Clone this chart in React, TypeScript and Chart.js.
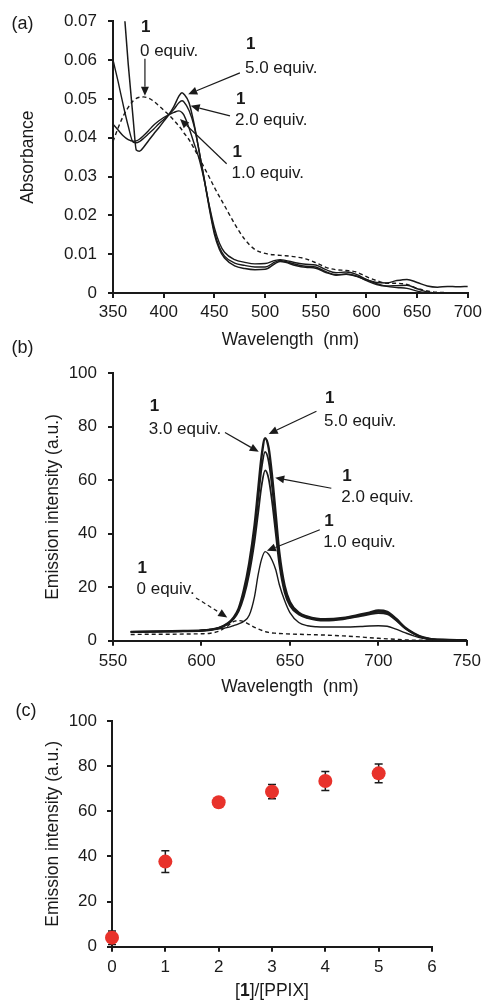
import React, { useEffect, useRef } from 'react';
import { Chart, registerables } from 'chart.js';

Chart.register(...registerables);

const FONT = '"Liberation Sans", Arial, Helvetica, sans-serif';
const INK = '#1a1a1a';
const DOT = '#e8322b';

// ---------- Panel (a): absorbance ----------
const absWavelength = [350, 355, 360, 365, 370, 373, 376, 380, 385, 390, 395, 400, 405, 410, 415, 418, 420, 425, 430, 435, 440, 445, 450, 455, 460, 470, 480, 490, 500, 510, 515, 520, 530, 540, 550, 560, 570, 580, 590, 600, 610, 620, 630, 640, 650, 660, 670, 680, 690, 700];
const abs0eq = [0.039, 0.0425, 0.0455, 0.0478, 0.0495, 0.0501, 0.0504, 0.0505, 0.0502, 0.0494, 0.0483, 0.0471, 0.0459, 0.0445, 0.043, 0.042, 0.0412, 0.0395, 0.0372, 0.0348, 0.0323, 0.0298, 0.0272, 0.0248, 0.0225, 0.0178, 0.0138, 0.0112, 0.0102, 0.0098, 0.0097, 0.0096, 0.0093, 0.0088, 0.0078, 0.0066, 0.006, 0.0058, 0.0054, 0.0042, 0.0032, 0.0025, 0.0025, 0.0022, 0.0012, 0.0005, 0.0002, 0.0001, 0, 0];
const abs1eq = [0.0435, 0.042, 0.0405, 0.0395, 0.0391, 0.0392, 0.0396, 0.0405, 0.0418, 0.0432, 0.0443, 0.0452, 0.0459, 0.0465, 0.0469, 0.0465, 0.0458, 0.0425, 0.0385, 0.0345, 0.029, 0.0225, 0.0168, 0.0128, 0.0105, 0.0086, 0.0079, 0.0075, 0.0076, 0.0084, 0.0086, 0.0084, 0.0078, 0.0074, 0.0072, 0.006, 0.0052, 0.0054, 0.0048, 0.0035, 0.0024, 0.0017, 0.0014, 0.0012, 0.0005, 0, 0, 0, 0, 0];
const abs2eq = [0.06, 0.0545, 0.0485, 0.043, 0.0388, 0.0387, 0.039, 0.0398, 0.041, 0.0422, 0.0435, 0.0447, 0.0459, 0.0473, 0.049, 0.0495, 0.0492, 0.047, 0.043, 0.0365, 0.0295, 0.0222, 0.0158, 0.0118, 0.0095, 0.0077, 0.0071, 0.0067, 0.0067, 0.008, 0.0084, 0.0081, 0.0074, 0.0069, 0.0067, 0.0055, 0.0047, 0.0049, 0.0044, 0.0032, 0.0022, 0.0018, 0.0019, 0.002, 0.0011, 0.0003, 0, 0, 0, 0];
const abs5eq = [0.11, 0.094, 0.076, 0.059, 0.0445, 0.0368, 0.0365, 0.0375, 0.0392, 0.0409, 0.0425, 0.0442, 0.0459, 0.048, 0.0507, 0.0516, 0.0512, 0.049, 0.0435, 0.0365, 0.0292, 0.0218, 0.0152, 0.0112, 0.009, 0.007, 0.0063, 0.006, 0.0061, 0.0076, 0.0081, 0.0079, 0.0071, 0.0066, 0.0064, 0.0053, 0.0046, 0.0048, 0.0043, 0.0034, 0.0027, 0.0026, 0.0032, 0.0035, 0.0027, 0.0018, 0.0015, 0.0017, 0.0016, 0.0017];

// ---------- Panel (b): emission spectra ----------
const emWavelength = [560, 570, 580, 590, 600, 605, 610, 615, 618, 621, 624, 627, 630, 632, 634, 636, 638, 640, 642, 644, 647, 650, 655, 660, 665, 670, 680, 690, 695, 700, 705, 710, 715, 720, 725, 730, 740, 750];
const em0eq = [2.3, 2.4, 2.4, 2.5, 2.6, 2.8, 3.6, 5.6, 7.1, 7.5, 7.1, 6.1, 5.0, 4.4, 3.9, 3.4, 3.1, 2.9, 2.8, 2.7, 2.6, 2.5, 2.4, 2.3, 2.2, 2.1, 1.8, 1.4, 1.1, 0.9, 0.7, 0.5, 0.3, 0.2, 0.2, 0.1, 0.1, 0];
const em1eq = [3.3, 3.4, 3.5, 3.6, 3.8, 4.0, 4.4, 5.0, 5.6, 6.3, 7.3, 9.5, 16.5, 24.5, 30.5, 33.3, 32.3, 30.0, 26.5, 21, 15, 10.5, 6.8, 5.6, 5.2, 5.1, 5.1, 5.3, 5.5, 5.6, 5.4, 4.3, 3.0, 1.8, 0.9, 0.4, 0.2, 0.1];
const em2eq = [3.3, 3.4, 3.5, 3.6, 3.8, 4.1, 4.8, 6.2, 8.0, 11.0, 16.5, 25, 37, 47.5, 58, 63.7, 60.5, 51.5, 40, 28.5, 18, 13, 9.8, 8.4, 7.7, 7.5, 8.0, 9.2, 9.8, 10.3, 9.9, 7.6, 4.6, 2.6, 1.2, 0.6, 0.3, 0.2];
const em3eq = [3.3, 3.4, 3.5, 3.6, 3.8, 4.1, 4.8, 6.4, 8.3, 11.5, 18, 27.5, 40.5, 52.5, 64.5, 70.6, 67, 57, 44, 31, 19.5, 14, 10.2, 8.8, 8.0, 7.8, 8.3, 9.5, 10.2, 10.8, 10.4, 7.9, 4.8, 2.7, 1.2, 0.6, 0.3, 0.2];
const em5eq = [3.3, 3.4, 3.5, 3.6, 3.8, 4.1, 4.8, 6.5, 8.5, 12, 19, 29, 43, 56, 69, 75.7, 72, 61, 47, 33, 20.5, 14.5, 10.5, 9.0, 8.2, 8.0, 8.5, 9.8, 10.5, 11.3, 10.8, 8.2, 5.0, 2.8, 1.3, 0.6, 0.3, 0.2];

// ---------- Panel (c): titration ----------
const ratio = [0, 1, 2, 3, 4, 5];
const intensity = [4.0, 37.7, 64.0, 68.7, 73.4, 76.8];
const intensityErr = [3.0, 4.8, 1.0, 3.2, 4.2, 4.2];

// ---------- Annotations (data coordinates) ----------
type Note = { num: string; text: string; x: number; numY: number; textY: number; from: [number, number]; to: [number, number]; dashed?: boolean };

const absNotes: Note[] = [
  { num: '1', text: '0 equiv.', x: 376.6, numY: 0.0683, textY: 0.0623, from: [381.5, 0.0603], to: [381.5, 0.0508] },
  { num: '1', text: '5.0 equiv.', x: 480.2, numY: 0.0641, textY: 0.0579, from: [475.2, 0.0567], to: [424.2, 0.0512] },
  { num: '1', text: '2.0 equiv.', x: 470.3, numY: 0.05, textY: 0.0444, from: [465.4, 0.0456], to: [426.6, 0.0482] },
  { num: '1', text: '1.0 equiv.', x: 467, numY: 0.0362, textY: 0.0308, from: [462.1, 0.0333], to: [416.1, 0.0448] },
];

const emNotes: Note[] = [
  { num: '1', text: '3.0 equiv.', x: 570.2, numY: 87.6, textY: 79.1, from: [613.3, 77.8], to: [632.4, 70.6] },
  { num: '1', text: '5.0 equiv.', x: 669.3, numY: 90.6, textY: 82.2, from: [665, 85.8], to: [638, 77.3] },
  { num: '1', text: '2.0 equiv.', x: 679, numY: 61.5, textY: 53.7, from: [673.4, 57], to: [641.7, 60.9] },
  { num: '1', text: '1.0 equiv.', x: 668.8, numY: 44.6, textY: 36.7, from: [666.9, 41.5], to: [637, 33.6] },
  { num: '1', text: '0 equiv.', x: 563.3, numY: 26.9, textY: 19.1, from: [596.9, 16], to: [614.6, 8.7], dashed: true },
];

function pairs(xs: number[], ys: number[]) {
  return xs.map((x, i) => ({ x, y: ys[i] }));
}

function drawArrow(ctx: CanvasRenderingContext2D, x1: number, y1: number, x2: number, y2: number, dashed?: boolean) {
  const ang = Math.atan2(y2 - y1, x2 - x1);
  const head = 9;
  const half = 4;
  const bx = x2 - head * Math.cos(ang);
  const by = y2 - head * Math.sin(ang);
  ctx.save();
  ctx.strokeStyle = INK;
  ctx.fillStyle = INK;
  ctx.lineWidth = 1.2;
  ctx.setLineDash(dashed ? [4, 3] : []);
  ctx.beginPath();
  ctx.moveTo(x1, y1);
  ctx.lineTo(bx, by);
  ctx.stroke();
  ctx.setLineDash([]);
  ctx.beginPath();
  ctx.moveTo(x2, y2);
  ctx.lineTo(bx - half * Math.sin(ang), by + half * Math.cos(ang));
  ctx.lineTo(bx + half * Math.sin(ang), by - half * Math.cos(ang));
  ctx.closePath();
  ctx.fill();
  ctx.restore();
}

function notesPlugin(notes: Note[]) {
  return {
    id: 'notes',
    afterDatasetsDraw(chart: any) {
      const { ctx } = chart;
      const xs = chart.scales.x;
      const ys = chart.scales.y;
      ctx.save();
      ctx.textAlign = 'left';
      ctx.textBaseline = 'middle';
      ctx.fillStyle = INK;
      for (const n of notes) {
        const px = xs.getPixelForValue(n.x);
        ctx.font = `bold 17px ${FONT}`;
        ctx.fillText(n.num, px + 1, ys.getPixelForValue(n.numY));
        ctx.font = `17px ${FONT}`;
        ctx.fillText(n.text, px, ys.getPixelForValue(n.textY));
        drawArrow(ctx, xs.getPixelForValue(n.from[0]), ys.getPixelForValue(n.from[1]), xs.getPixelForValue(n.to[0]), ys.getPixelForValue(n.to[1]), n.dashed);
      }
      ctx.restore();
    },
  };
}

const tickFont = { family: FONT, size: 17 };
const titleFont = { family: FONT, size: 17.5 };

function xAxis(min: number, max: number, step: number, height: number, labelPad: number, title: string | null, titlePadBottom: number) {
  return {
    type: 'linear' as const,
    min,
    max,
    afterFit: (s: any) => { s.height = height; },
    ticks: { stepSize: step, color: INK, font: tickFont, padding: labelPad, maxRotation: 0, autoSkip: false },
    grid: { drawOnChartArea: false, drawTicks: true, tickLength: 5, color: INK, lineWidth: 2 },
    border: { display: true, color: INK, width: 2 },
    title: title
      ? { display: true, text: title, color: INK, font: titleFont, padding: { top: 0, bottom: titlePadBottom } }
      : { display: false },
  };
}

function yAxis(min: number, max: number, step: number, width: number, labelPad: number, title: string, titlePadTop: number, fmt?: (v: number) => string) {
  return {
    type: 'linear' as const,
    min,
    max,
    afterFit: (s: any) => { s.width = width; },
    ticks: {
      stepSize: step,
      color: INK,
      font: tickFont,
      padding: labelPad,
      autoSkip: false,
      callback: (v: any) => (fmt ? fmt(Number(v)) : String(Math.round(Number(v)))),
    },
    grid: { drawOnChartArea: false, drawTicks: true, tickLength: 5, color: INK, lineWidth: 2 },
    border: { display: true, color: INK, width: 2 },
    title: { display: true, text: title, color: INK, font: titleFont, padding: { top: titlePadTop, bottom: 0 } },
  };
}

const baseOptions = {
  animation: false as const,
  responsive: false,
  events: [] as any[],
  plugins: { legend: { display: false }, tooltip: { enabled: false } },
};

function lineSet(xs: number[], ys: number[], width: number, dashed = false) {
  return {
    data: pairs(xs, ys),
    borderColor: INK,
    borderWidth: width,
    borderDash: dashed ? [4, 3] : [],
    pointRadius: 0,
    fill: false,
    cubicInterpolationMode: 'monotone' as const,
  };
}

function configA(): any {
  return {
    type: 'line',
    data: {
      datasets: [
        lineSet(absWavelength, abs0eq, 1.4, true),
        lineSet(absWavelength, abs1eq, 1.4),
        lineSet(absWavelength, abs2eq, 1.4),
        lineSet(absWavelength, abs5eq, 1.5),
      ],
    },
    options: {
      ...baseOptions,
      layout: { padding: { top: 20, right: 18, left: 0, bottom: 0 } },
      scales: {
        x: xAxis(350, 700, 50, 59, 4, 'Wavelength  (nm)', 1.5),
        y: yAxis(0, 0.07, 0.01, 113, 11, 'Absorbance', 17.5, (v) => (v === 0 ? '0' : v.toFixed(2))),
      },
    },
    plugins: [notesPlugin(absNotes)],
  };
}

function configB(): any {
  return {
    type: 'line',
    data: {
      datasets: [
        lineSet(emWavelength, em0eq, 1.4, true),
        lineSet(emWavelength, em1eq, 1.4),
        lineSet(emWavelength, em2eq, 1.8),
        lineSet(emWavelength, em3eq, 1.8),
        lineSet(emWavelength, em5eq, 2.4),
      ],
    },
    options: {
      ...baseOptions,
      layout: { padding: { top: 14, right: 16, left: 0, bottom: 0 } },
      scales: {
        x: xAxis(550, 750, 50, 57.3, 5, 'Wavelength  (nm)', 0.8),
        y: yAxis(0, 100, 20, 113, 11, 'Emission intensity (a.u.)', 42.5),
      },
    },
    plugins: [notesPlugin(emNotes)],
  };
}

const errorBarPlugin = {
  id: 'errorBars',
  beforeDatasetsDraw(chart: any) {
    const { ctx } = chart;
    const xs = chart.scales.x;
    const ys = chart.scales.y;
    ctx.save();
    ctx.strokeStyle = INK;
    ctx.lineWidth = 1.5;
    ratio.forEach((r, i) => {
      const px = xs.getPixelForValue(r);
      const top = ys.getPixelForValue(intensity[i] + intensityErr[i]);
      const bot = ys.getPixelForValue(Math.max(0, intensity[i] - intensityErr[i]));
      ctx.beginPath();
      ctx.moveTo(px, top);
      ctx.lineTo(px, bot);
      ctx.moveTo(px - 4, top);
      ctx.lineTo(px + 4, top);
      ctx.moveTo(px - 4, bot);
      ctx.lineTo(px + 4, bot);
      ctx.stroke();
    });
    ctx.restore();
  },
};

const ratioTitlePlugin = {
  id: 'ratioTitle',
  afterDraw(chart: any) {
    const { ctx, chartArea } = chart;
    const parts: [string, boolean][] = [['[', false], ['1', true], [']/[PPIX]', false]];
    ctx.save();
    ctx.fillStyle = INK;
    ctx.textBaseline = 'middle';
    ctx.textAlign = 'left';
    let total = 0;
    const widths = parts.map(([t, b]) => {
      ctx.font = `${b ? 'bold ' : ''}17.5px ${FONT}`;
      const w = ctx.measureText(t).width;
      total += w;
      return w;
    });
    let x = (chartArea.left + chartArea.right) / 2 - total / 2;
    const y = chart.scales.x.bottom - 10.5;
    parts.forEach(([t, b], i) => {
      ctx.font = `${b ? 'bold ' : ''}17.5px ${FONT}`;
      ctx.fillText(t, x, y);
      x += widths[i];
    });
    ctx.restore();
  },
};

function configC(): any {
  return {
    type: 'scatter',
    data: {
      datasets: [
        {
          data: pairs(ratio, intensity),
          pointRadius: 7,
          pointBackgroundColor: DOT,
          pointBorderColor: DOT,
          pointBorderWidth: 0,
          clip: false,
        },
      ],
    },
    options: {
      ...baseOptions,
      layout: { padding: { top: 23, right: 54, left: 0, bottom: 0 } },
      scales: {
        x: xAxis(0, 6, 1, 55.3, 5, null, 0),
        y: yAxis(0, 100, 20, 112, 10, 'Emission intensity (a.u.)', 42.5),
      },
    },
    plugins: [errorBarPlugin, ratioTitlePlugin],
  };
}

const labelStyle = (left: number, top: number): React.CSSProperties => ({
  position: 'absolute',
  left,
  top,
  fontFamily: FONT,
  fontSize: 18,
  lineHeight: '18px',
  color: INK,
  whiteSpace: 'nowrap',
});

export default function App() {
  const aRef = useRef<HTMLCanvasElement>(null);
  const bRef = useRef<HTMLCanvasElement>(null);
  const cRef = useRef<HTMLCanvasElement>(null);

  useEffect(() => {
    const charts = [
      new Chart(aRef.current as HTMLCanvasElement, configA()),
      new Chart(bRef.current as HTMLCanvasElement, configB()),
      new Chart(cRef.current as HTMLCanvasElement, configC()),
    ];
    return () => charts.forEach((c) => c.destroy());
  }, []);

  return (
    <div style={{ position: 'absolute', left: 0, top: 0, width: 486, height: 1002, background: '#fff', overflow: 'hidden' }}>
      <canvas ref={aRef} width={486} height={352} style={{ position: 'absolute', left: 0, top: 0 }} />
      <canvas ref={bRef} width={486} height={346} style={{ position: 'absolute', left: 0, top: 352 }} />
      <canvas ref={cRef} width={486} height={304} style={{ position: 'absolute', left: 0, top: 698 }} />
      <div style={labelStyle(11.5, 14.4)}>(a)</div>
      <div style={labelStyle(11.5, 338.4)}>(b)</div>
      <div style={labelStyle(15.5, 701.1)}>(c)</div>
    </div>
  );
}
